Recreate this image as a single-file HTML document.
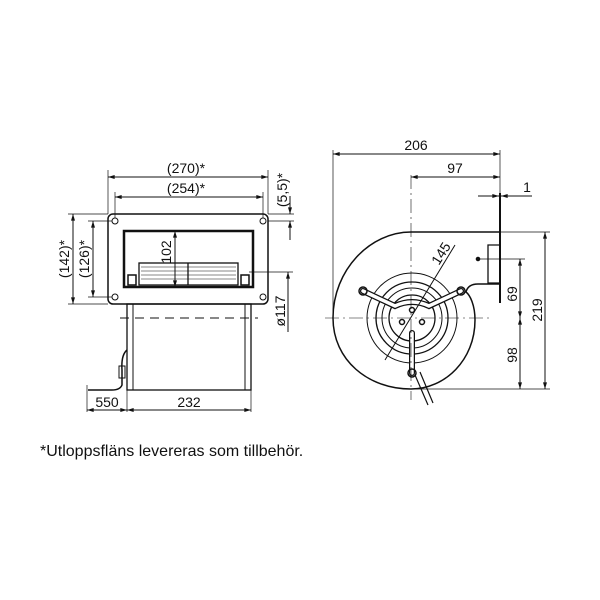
<!DOCTYPE html>
<html><head><meta charset="utf-8"><style>
html,body{margin:0;padding:0;background:#fff;}
svg{display:block;}
text{font-family:"Liberation Sans",sans-serif;fill:#111;}
</style></head><body>
<svg width="600" height="600" viewBox="0 0 600 600" xmlns="http://www.w3.org/2000/svg">
<defs>
<marker id="a" viewBox="0 0 10 6" refX="10" refY="3" markerWidth="8" markerHeight="4" orient="auto-start-reverse"><path d="M0,0L10,3L0,6z" fill="#111"/></marker>
</defs>
<g stroke="#111" fill="none" stroke-width="1">
<rect x="108" y="214" width="160" height="90" rx="5" stroke-width="1.5"/>
<rect x="124" y="231" width="129" height="56" stroke-width="2.5"/>
<rect x="139" y="263" width="99" height="22" stroke-width="1.3"/>
<line x1="188" y1="263" x2="188" y2="285" stroke-width="1.3"/>
<g stroke-width="0.6"><line x1="141" y1="267" x2="236" y2="267"/><line x1="141" y1="271" x2="236" y2="271"/><line x1="141" y1="275" x2="236" y2="275"/><line x1="141" y1="279" x2="236" y2="279"/></g>
<rect x="128" y="275" width="8" height="10" stroke-width="1.5"/><rect x="241" y="275" width="8" height="10" stroke-width="1.5"/>
<circle cx="115" cy="221" r="3"/><circle cx="263" cy="221" r="3"/><circle cx="115" cy="297" r="3"/><circle cx="263" cy="297" r="3"/>
<rect x="127" y="304" width="124" height="86" stroke-width="1.3"/>
<line x1="133" y1="304" x2="133" y2="390"/><line x1="245" y1="304" x2="245" y2="390"/>
<line x1="120" y1="318" x2="258" y2="318" stroke-dasharray="9,6"/>
<path d="M127,350 Q121,355 122,370 L122,385 Q120,390 112,390 L88,390" stroke-width="1.5"/>
<rect x="119" y="366" width="6" height="12"/>
<line x1="108" y1="170" x2="108" y2="214" stroke-width="0.7"/><line x1="268" y1="170" x2="268" y2="214" stroke-width="0.7"/>
<line x1="108" y1="177" x2="268" y2="177" marker-start="url(#a)" marker-end="url(#a)"/>
<line x1="115" y1="192" x2="115" y2="218" stroke-width="0.7"/><line x1="263" y1="192" x2="263" y2="218" stroke-width="0.7"/>
<line x1="115" y1="197" x2="263" y2="197" marker-start="url(#a)" marker-end="url(#a)"/>
<line x1="268" y1="214" x2="294" y2="214" stroke-width="0.7"/><line x1="268" y1="221" x2="294" y2="221" stroke-width="0.7"/>
<line x1="290" y1="196" x2="290" y2="214" marker-end="url(#a)"/><line x1="290" y1="240" x2="290" y2="221" marker-end="url(#a)"/>
<line x1="68" y1="214" x2="108" y2="214" stroke-width="0.7"/><line x1="68" y1="304" x2="108" y2="304" stroke-width="0.7"/>
<line x1="73" y1="214" x2="73" y2="304" marker-start="url(#a)" marker-end="url(#a)"/>
<line x1="88" y1="221" x2="112" y2="221" stroke-width="0.7"/><line x1="88" y1="297" x2="112" y2="297" stroke-width="0.7"/>
<line x1="93" y1="221" x2="93" y2="297" marker-start="url(#a)" marker-end="url(#a)"/>
<line x1="175" y1="231" x2="175" y2="287" marker-start="url(#a)" marker-end="url(#a)"/>
<line x1="249" y1="272" x2="293" y2="272" stroke-width="0.7"/>
<line x1="288" y1="272" x2="288" y2="332" marker-start="url(#a)"/>
<line x1="87" y1="385" x2="87" y2="412" stroke-width="0.7"/><line x1="127" y1="390" x2="127" y2="412" stroke-width="0.7"/><line x1="251" y1="390" x2="251" y2="412" stroke-width="0.7"/>
<line x1="87" y1="410" x2="127" y2="410" marker-start="url(#a)" marker-end="url(#a)"/>
<line x1="127" y1="410" x2="251" y2="410" marker-start="url(#a)" marker-end="url(#a)"/>
<path d="M500,232 L411,232 C370,232 333,270 333,318 C333,360 368,389 411,389 C445,389 475,360 475,320 C475,305 470,295 466,292 Q468,284 478,284 L500,284" stroke-width="1.5"/>
<line x1="500" y1="193" x2="500" y2="303" stroke-width="2"/>
<path d="M500,245 L488,245 L488,283 L500,283" stroke-width="1.3"/>
<circle cx="478" cy="259" r="1.8" fill="#111"/>
<circle cx="412" cy="318" r="45"/><circle cx="412" cy="318" r="36" stroke-width="1.3"/><circle cx="412" cy="318" r="30"/><circle cx="412" cy="318" r="23" stroke-width="1.3"/>
<path d="M363,291 L395,306 Q412,298 429,306 L461,291" stroke-width="6" stroke-linecap="round"/>
<path d="M363,291 L395,306 Q412,298 429,306 L461,291" stroke-width="3.5" stroke="#fff" stroke-linecap="round"/>
<line x1="412" y1="333" x2="412" y2="373" stroke-width="6" stroke-linecap="round"/>
<line x1="412" y1="333" x2="412" y2="373" stroke-width="3.5" stroke="#fff" stroke-linecap="round"/>
<circle cx="363" cy="291" r="4" stroke-width="1.5"/><circle cx="461" cy="291" r="4" stroke-width="1.5"/><circle cx="412" cy="373" r="4" stroke-width="1.5"/>
<circle cx="412" cy="310" r="2.5" stroke-width="1.5"/><circle cx="402" cy="322" r="2.5" stroke-width="1.5"/><circle cx="422" cy="322" r="2.5" stroke-width="1.5"/>
<path d="M415,375 L428,405 M420,372 L433,403" stroke-width="1.2"/>
<line x1="411" y1="175" x2="411" y2="400" stroke-width="0.6" stroke-dasharray="14,4,2,4"/>
<line x1="325" y1="318" x2="490" y2="318" stroke-width="0.6" stroke-dasharray="14,4,2,4"/>
<line x1="385" y1="360" x2="455" y2="245"/>
<line x1="333" y1="150" x2="333" y2="318" stroke-width="0.7"/><line x1="500" y1="150" x2="500" y2="193" stroke-width="0.7"/>
<line x1="333" y1="154" x2="500" y2="154" marker-start="url(#a)" marker-end="url(#a)"/>
<line x1="411" y1="177" x2="500" y2="177" marker-start="url(#a)" marker-end="url(#a)"/>
<line x1="478" y1="196" x2="499" y2="196" marker-end="url(#a)"/><line x1="532" y1="196" x2="501" y2="196" marker-end="url(#a)"/>
<line x1="500" y1="232" x2="550" y2="232" stroke-width="0.7"/><line x1="411" y1="389" x2="550" y2="389" stroke-width="0.7"/>
<line x1="545" y1="232" x2="545" y2="389" marker-start="url(#a)" marker-end="url(#a)"/>
<line x1="478" y1="259" x2="525" y2="259" stroke-width="0.7"/>
<line x1="520" y1="259" x2="520" y2="318" marker-start="url(#a)" marker-end="url(#a)"/>
<line x1="520" y1="318" x2="520" y2="389" marker-start="url(#a)" marker-end="url(#a)"/>
</g>
<g font-size="14">
<text x="186" y="173" text-anchor="middle">(270)*</text>
<text x="186" y="193" text-anchor="middle">(254)*</text>
<text transform="translate(287,190) rotate(-90)" text-anchor="middle">(5,5)*</text>
<text transform="translate(69,259) rotate(-90)" text-anchor="middle">(142)*</text>
<text transform="translate(89,259) rotate(-90)" text-anchor="middle">(126)*</text>
<text transform="translate(171,252) rotate(-90)" text-anchor="middle">102</text>
<text transform="translate(285,311) rotate(-90)" text-anchor="middle">ø117</text>
<text x="107" y="407" text-anchor="middle">550</text>
<text x="189" y="407" text-anchor="middle">232</text>
<text x="416" y="150" text-anchor="middle">206</text>
<text x="455" y="173" text-anchor="middle">97</text>
<text x="527" y="192" text-anchor="middle">1</text>
<text transform="translate(542,310) rotate(-90)" text-anchor="middle">219</text>
<text transform="translate(517,294) rotate(-90)" text-anchor="middle">69</text>
<text transform="translate(517,355) rotate(-90)" text-anchor="middle">98</text>
<text transform="translate(445,256) rotate(-58)" text-anchor="middle">145</text>
<text x="40" y="456" font-size="16">*Utloppsfläns levereras som tillbehör.</text>
</g>
</svg>
</body></html>
